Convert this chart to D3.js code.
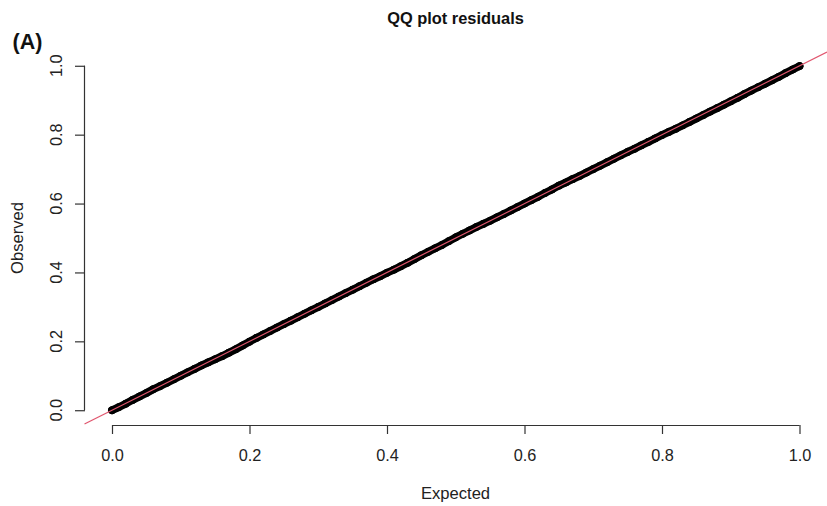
<!DOCTYPE html>
<html>
<head>
<meta charset="utf-8">
<script src="https://cdn.jsdelivr.net/npm/d3@7"></script>
<style>
  html, body { margin: 0; padding: 0; background: #fff; }
  svg { display: block; font-family: "Liberation Sans", Arial, sans-serif; }
</style>
</head>
<body>
<svg id="chart" width="827" height="506"></svg>
<script>
// Uniform QQ plot of residuals: expected vs observed quantiles
const expected = [
  0.00,0.01,0.02,0.03,0.04,0.05,0.06,0.07,0.08,0.09,
  0.10,0.11,0.12,0.13,0.14,0.15,0.16,0.17,0.18,0.19,
  0.20,0.21,0.22,0.23,0.24,0.25,0.26,0.27,0.28,0.29,
  0.30,0.31,0.32,0.33,0.34,0.35,0.36,0.37,0.38,0.39,
  0.40,0.41,0.42,0.43,0.44,0.45,0.46,0.47,0.48,0.49,
  0.50,0.51,0.52,0.53,0.54,0.55,0.56,0.57,0.58,0.59,
  0.60,0.61,0.62,0.63,0.64,0.65,0.66,0.67,0.68,0.69,
  0.70,0.71,0.72,0.73,0.74,0.75,0.76,0.77,0.78,0.79,
  0.80,0.81,0.82,0.83,0.84,0.85,0.86,0.87,0.88,0.89,
  0.90,0.91,0.92,0.93,0.94,0.95,0.96,0.97,0.98,0.99,1.00
];
const observed = [
  0.000,0.009,0.019,0.030,0.040,0.050,0.061,0.070,0.080,0.090,
  0.100,0.110,0.120,0.130,0.139,0.148,0.157,0.167,0.177,0.188,
  0.199,0.210,0.220,0.230,0.240,0.250,0.260,0.270,0.280,0.290,
  0.300,0.310,0.320,0.330,0.340,0.350,0.360,0.370,0.380,0.389,
  0.399,0.408,0.418,0.428,0.439,0.450,0.460,0.470,0.480,0.491,
  0.502,0.512,0.522,0.532,0.541,0.550,0.560,0.570,0.580,0.590,
  0.600,0.610,0.620,0.631,0.641,0.652,0.661,0.671,0.680,0.690,
  0.700,0.710,0.720,0.730,0.740,0.750,0.759,0.769,0.779,0.789,
  0.799,0.808,0.817,0.827,0.837,0.847,0.857,0.867,0.877,0.887,
  0.897,0.907,0.918,0.928,0.938,0.948,0.958,0.968,0.979,0.989,0.999
];
const xTicks = [0.0, 0.2, 0.4, 0.6, 0.8, 1.0];
const yTicks = [0.0, 0.2, 0.4, 0.6, 0.8, 1.0];
const refLine = [-0.04, 1.04];   // y = x reference, spanning the plot region

const svg = d3.select("#chart");
const fmt = d3.format(".1f");

// plot region extends 4% past the data range on each side
const x = d3.scaleLinear().domain([-0.04, 1.04]).range([84.5, 827]);
const y = d3.scaleLinear().domain([-0.04, 1.04]).range([424, 52]);

const axisColor = "#333";
const tickFont = 16.3;

// x axis
const gx = svg.append("g")
  .attr("transform", `translate(0,425)`)
  .call(d3.axisBottom(x).tickValues(xTicks).tickFormat(fmt).tickSize(9).tickSizeOuter(0).tickPadding(15.5));
gx.select(".domain").attr("d", `M${x(xTicks[0])},0.5H${x(xTicks[xTicks.length - 1])}`);
gx.selectAll("line, path").attr("stroke", axisColor).attr("stroke-width", 1.2);
gx.selectAll("text").attr("font-size", tickFont).attr("fill", "#222")
  .attr("font-family", "'Liberation Sans', Arial, sans-serif");

// y axis
const gy = svg.append("g")
  .attr("transform", `translate(85,0)`)
  .call(d3.axisLeft(y).tickValues(yTicks).tickFormat("").tickSize(10).tickSizeOuter(0));
gy.select(".domain").attr("d", `M-0.5,${y(yTicks[0])}V${y(yTicks[yTicks.length - 1])}`);
gy.selectAll("line, path").attr("stroke", axisColor).attr("stroke-width", 1.2);

svg.append("g").selectAll("text")
  .data(yTicks)
  .join("text")
  .attr("transform", d => `translate(62,${y(d)}) rotate(-90)`)
  .attr("text-anchor", "middle")
  .attr("font-size", tickFont)
  .attr("fill", "#222")
  .text(fmt);

// points: the dense cloud of quantiles
const pts = expected.map((e, i) => [e, observed[i]]);
svg.append("path")
  .datum(pts)
  .attr("d", d3.line().x(d => x(d[0])).y(d => y(d[1])))
  .attr("fill", "none")
  .attr("stroke", "#000")
  .attr("stroke-width", 7.8)
  .attr("stroke-linecap", "round")
  .attr("stroke-linejoin", "round");
svg.append("g").selectAll("circle")
  .data(pts)
  .join("circle")
  .attr("cx", d => x(d[0]))
  .attr("cy", d => y(d[1]))
  .attr("r", 3.6)
  .attr("fill", "#000")
  .attr("stroke", "#000")
  .attr("stroke-width", 1);

// y = x reference line
svg.append("line")
  .attr("x1", x(refLine[0])).attr("y1", y(refLine[0]))
  .attr("x2", x(refLine[1])).attr("y2", y(refLine[1]))
  .attr("stroke", "#E0566E")
  .attr("stroke-width", 1.2);

// titles and labels
svg.append("text")
  .attr("x", 455.5).attr("y", 24)
  .attr("text-anchor", "middle")
  .attr("font-size", 16.4).attr("font-weight", "bold").attr("fill", "#111")
  .text("QQ plot residuals");

svg.append("text")
  .attr("x", 12.5).attr("y", 49)
  .attr("font-size", 21.5).attr("font-weight", "bold").attr("fill", "#111")
  .text("(A)");

svg.append("text")
  .attr("x", 455.5).attr("y", 499)
  .attr("text-anchor", "middle")
  .attr("font-size", 16.6).attr("fill", "#222")
  .text("Expected");

svg.append("text")
  .attr("transform", "translate(23,238) rotate(-90)")
  .attr("text-anchor", "middle")
  .attr("font-size", 16.6).attr("fill", "#222")
  .text("Observed");
</script>
</body>
</html>
